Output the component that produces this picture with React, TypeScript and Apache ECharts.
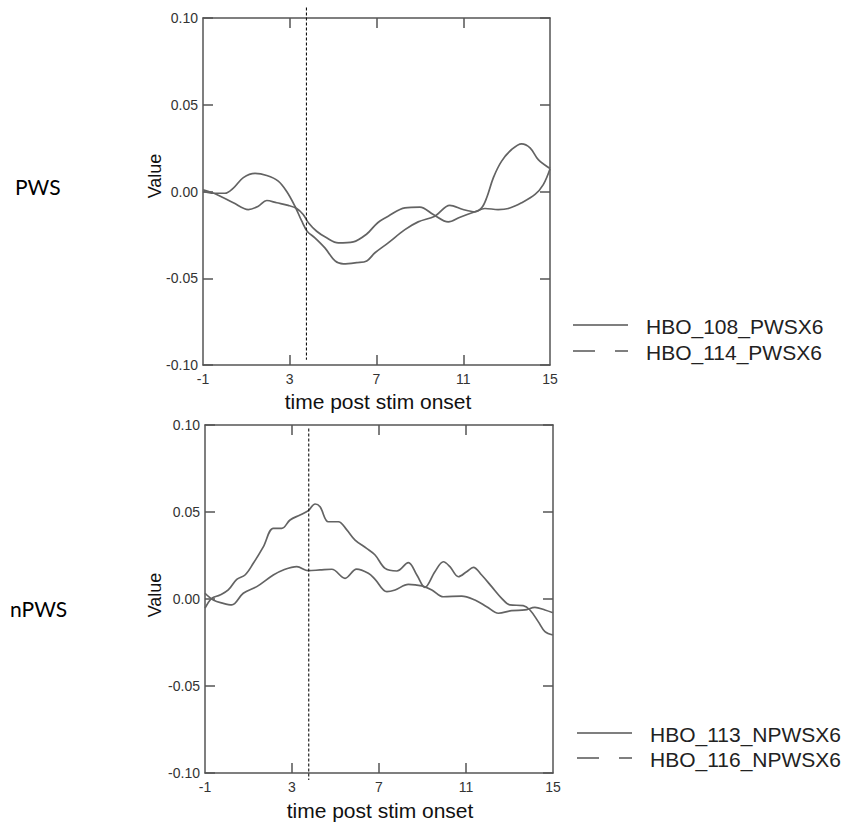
import React, { useEffect, useRef } from "react";
import * as echarts from "echarts";

// ---- data ----
const xLabelValues = [-1, 3, 7, 11, 15];
const xInnerTicks = [3, 7, 11];
const stimOnsetMarker = 3.77;
const groupLabels = ["PWS", "nPWS"];
const pwsNames = ["HBO_108_PWSX6", "HBO_114_PWSX6"];
const npwsNames = ["HBO_113_NPWSX6", "HBO_116_NPWSX6"];
const axisTitleX = "time post stim onset";
const axisTitleY = "Value";

const hbo108: [number, number][] = [
  [-1, 0.0], [-0.52, -0.001], [0.01, -0.001], [0.4, 0.002], [0.86, 0.008], [1.4, 0.0104],
  [1.94, 0.0092], [2.47, 0.006], [2.86, 0.0], [3.24, -0.0085], [3.55, -0.017], [3.81, -0.023],
  [4.16, -0.0267], [4.62, -0.0325], [5.09, -0.04], [5.47, -0.0417], [6.09, -0.041], [6.55, -0.04],
  [6.93, -0.0353], [7.54, -0.0296], [8.31, -0.022], [8.92, -0.0175], [9.69, -0.0142], [10.38, -0.008],
  [10.99, -0.0104], [11.54, -0.0117], [11.85, -0.0094], [12.08, -0.0036], [12.39, 0.008], [12.77, 0.0175],
  [13.23, 0.0242], [13.69, 0.0275], [14.08, 0.0252], [14.46, 0.0184], [15, 0.0133],
];
const hbo114: [number, number][] = [
  [-1, 0.001], [-0.37, -0.0017], [0.4, -0.0065], [1.09, -0.0104], [1.55, -0.0085], [1.94, -0.0052],
  [2.4, -0.0065], [2.93, -0.008], [3.32, -0.0098], [3.62, -0.0133], [3.86, -0.018], [4.24, -0.0229],
  [4.7, -0.0267], [5.24, -0.0296], [5.93, -0.029], [6.55, -0.0245], [6.93, -0.0195], [7.16, -0.017],
  [7.54, -0.0142], [8.31, -0.0094], [9.0, -0.009], [9.62, -0.0133], [10.31, -0.0175], [10.85, -0.0148],
  [11.54, -0.0117], [12.0, -0.0098], [12.61, -0.0104], [13.08, -0.0098], [13.69, -0.0065], [14.31, -0.0017],
  [14.69, 0.004], [15, 0.013],
];
const hbo113: [number, number][] = [
  [-1, -0.0053], [-0.69, 0.0004], [-0.31, 0.0023], [0.07, 0.0052], [0.46, 0.0113], [0.84, 0.0138],
  [1.22, 0.0205], [1.68, 0.03], [2.14, 0.0406], [2.53, 0.0406], [2.91, 0.0454], [3.37, 0.0483],
  [3.75, 0.0508], [4.06, 0.0546], [4.29, 0.053], [4.67, 0.0444], [5.13, 0.0444], [5.52, 0.0397],
  [5.9, 0.0339], [6.43, 0.0291], [6.82, 0.0253], [7.28, 0.0176], [7.82, 0.0161], [8.35, 0.0209],
  [8.74, 0.0138], [9.11, 0.0067], [9.57, 0.0157], [9.96, 0.0214], [10.26, 0.0186], [10.65, 0.0128],
  [11.03, 0.0157], [11.34, 0.0182], [11.72, 0.0138], [12.18, 0.0071], [12.64, 0.0004], [13.02, -0.0034],
  [13.63, -0.0038], [13.94, -0.0063], [14.32, -0.013], [14.63, -0.0188], [15, -0.0207],
];
const hbo116: [number, number][] = [
  [-1, 0.0033], [-0.62, -0.0006], [-0.16, -0.0025], [0.23, -0.0034], [0.76, 0.0033], [1.38, 0.0071],
  [2.14, 0.0138], [2.6, 0.0167], [3.22, 0.0186], [3.75, 0.0163], [4.29, 0.0167], [4.83, 0.0171],
  [5.44, 0.0119], [5.97, 0.0172], [6.51, 0.0148], [6.82, 0.0113], [7.36, 0.0042], [7.74, 0.0052],
  [8.35, 0.0084], [8.97, 0.0075], [9.43, 0.0052], [9.96, 0.0013], [10.8, 0.0017], [11.41, -0.0006],
  [11.95, -0.0044], [12.49, -0.0082], [13.1, -0.0067], [13.71, -0.0063], [14.17, -0.0048], [14.63, -0.0063],
  [15, -0.0079],
];
const markerSpanTop = [0.106, -0.097];
const markerSpanBottom = [0.098, -0.104];

const FONT = "'Liberation Sans', Arial, sans-serif";
const AXIS_COLOR = "#555";
const LINE_COLOR = "#636363";

export default function App() {
  const ref = useRef<HTMLDivElement>(null);
  useEffect(() => {
    if (!ref.current) return;
    const chart = echarts.init(ref.current, null, { renderer: "svg" });

    const grids = [
      { left: 203, top: 18, width: 347, height: 347 },
      { left: 205, top: 425, width: 348, height: 348 },
    ];
    const xAxes: any[] = [];
    const yAxes: any[] = [];
    grids.forEach((_, g) => {
      const line = { show: true, onZero: false, lineStyle: { color: AXIS_COLOR, width: 1.5 } };
      const tick = { show: true, inside: true, length: 10, lineStyle: { color: AXIS_COLOR, width: 1.5 } };
      xAxes.push({
        type: "value", gridIndex: g, min: -1, max: 15, position: "bottom",
        axisLine: line,
        axisTick: { ...tick, customValues: xInnerTicks },
        axisLabel: { customValues: xLabelValues, color: "#333", fontSize: 14, fontFamily: FONT, margin: 7 },
        splitLine: { show: false },
      });
      xAxes.push({
        type: "value", gridIndex: g, min: -1, max: 15, position: "top",
        axisLine: line,
        axisTick: { ...tick, customValues: xInnerTicks },
        axisLabel: { show: false },
        splitLine: { show: false },
      });
      yAxes.push({
        type: "value", gridIndex: g, min: -0.1, max: 0.1, interval: 0.05, position: "left",
        axisLine: line,
        axisTick: tick,
        axisLabel: {
          color: "#333", fontSize: 14, fontFamily: FONT, margin: 5,
          formatter: (v: number) => v.toFixed(2),
        },
        splitLine: { show: false },
      });
      yAxes.push({
        type: "value", gridIndex: g, min: -0.1, max: 0.1, interval: 0.05, position: "right",
        axisLine: line,
        axisTick: tick,
        axisLabel: { show: false },
        splitLine: { show: false },
      });
    });

    const dataLine = (name: string, data: [number, number][], g: number) => ({
      type: "line", name, data, xAxisIndex: g * 2, yAxisIndex: g * 2,
      symbol: "none", showSymbol: false, smooth: 0.35,
      lineStyle: { color: LINE_COLOR, width: 1.7 },
      z: 3,
    });
    const marker = (span: number[], g: number) => ({
      type: "line", name: "stim", data: span.map((v) => [stimOnsetMarker, v]),
      xAxisIndex: g * 2, yAxisIndex: g * 2, symbol: "none", clip: false,
      lineStyle: { color: "#111", width: 1.1, type: [3, 2] },
      z: 4, silent: true,
    });

    const text = (t: string, x: number, y: number, size: number, opts: any = {}) => ({
      type: "text", x, y, rotation: opts.rotation || 0,
      style: {
        text: t, fill: opts.fill || "#111", fontSize: size, fontFamily: opts.family || FONT,
        textAlign: opts.align || "left", textVerticalAlign: "middle",
      },
    });
    const legendLine = (x1: number, y: number, x2: number, dashed: boolean) => ({
      type: "line",
      shape: { x1, y1: y, x2, y2: y },
      style: { stroke: "#555", lineWidth: 1.5, lineDash: dashed ? [22, 20] : null },
    });

    const graphic: any[] = [
      text(groupLabels[0], 15, 186, 21, { family: "Lato, 'Open Sans', sans-serif", fill: "#000" }),
      text(groupLabels[1], 10, 608, 21, { family: "Lato, 'Open Sans', sans-serif", fill: "#000" }),
      text(axisTitleY, 155, 176, 18, { rotation: Math.PI / 2, align: "center" }),
      text(axisTitleY, 155, 595, 18, { rotation: Math.PI / 2, align: "center" }),
      text(axisTitleX, 378, 401, 21, { align: "center" }),
      text(axisTitleX, 380, 810, 21, { align: "center" }),
      legendLine(573, 325, 628, false),
      legendLine(573, 351, 628, true),
      text(pwsNames[0], 646, 326, 21, { fill: "#222" }),
      text(pwsNames[1], 646, 352, 21, { fill: "#222" }),
      legendLine(577, 733, 632, false),
      legendLine(577, 758, 632, true),
      text(npwsNames[0], 650, 734, 21, { fill: "#222" }),
      text(npwsNames[1], 650, 759, 21, { fill: "#222" }),
    ];

    chart.setOption({
      animation: false,
      backgroundColor: "#fff",
      grid: grids,
      xAxis: xAxes,
      yAxis: yAxes,
      series: [
        dataLine(pwsNames[0], hbo108, 0),
        dataLine(pwsNames[1], hbo114, 0),
        marker(markerSpanTop, 0),
        dataLine(npwsNames[0], hbo113, 1),
        dataLine(npwsNames[1], hbo116, 1),
        marker(markerSpanBottom, 1),
      ],
      graphic,
    });
    return () => chart.dispose();
  }, []);
  return (
    <div
      ref={ref}
      style={{ position: "absolute", left: 0, top: 0, width: 848, height: 825 }}
    />
  );
}
